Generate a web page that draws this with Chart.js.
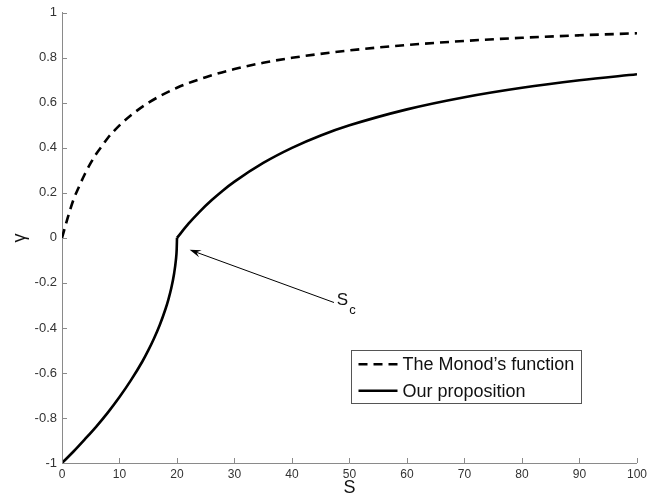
<!DOCTYPE html>
<html>
<head>
<meta charset="utf-8">
<script src="https://cdn.jsdelivr.net/npm/chart.js@4.4.1/dist/chart.umd.min.js"></script>
<style>
  html, body { margin: 0; padding: 0; background: #fff; }
  #wrap { width: 651px; height: 504px; }
</style>
</head>
<body>
<div id="wrap"><canvas id="chart" width="651" height="504"></canvas></div>
<script>
// Monod's function (dashed)
const monodS = [0, 1, 2, 3, 4, 5, 6, 7, 8, 10, 12, 15, 20, 25, 30, 35, 40, 50, 60, 70, 80, 90, 100];
const monodGamma = [0, 0.09, 0.17, 0.23, 0.285, 0.333, 0.375, 0.41, 0.445, 0.5, 0.545, 0.6, 0.667, 0.714, 0.75, 0.778, 0.8, 0.833, 0.857, 0.875, 0.889, 0.9, 0.909];

// Our proposition (solid), below S_c
const propLowS = [0, 2, 4, 6, 8, 10, 12, 14, 15, 16, 17, 18, 18.5, 19, 19.5, 19.8, 19.95, 20];
const propLowGamma = [-1, -0.949, -0.894, -0.837, -0.775, -0.707, -0.632, -0.548, -0.5, -0.447, -0.387, -0.316, -0.274, -0.224, -0.158, -0.1, -0.05, 0];

// Our proposition (solid), above S_c
const propHighS = [20, 22, 24, 26, 28, 30, 35, 40, 45, 50, 60, 70, 80, 90, 100];
const propHighGamma = [0, 0.063, 0.118, 0.167, 0.211, 0.25, 0.333, 0.4, 0.455, 0.5, 0.571, 0.625, 0.667, 0.7, 0.727];

const legendLabels = ["The Monod\u2019s function", "Our proposition"];

// annotation, in data units
const arrowTip = { x: 22.2, y: -0.053 };
const arrowTail = { x: 47.3, y: -0.287 };
const scLabel = { x: 47.8, y: -0.278 };
const legendBox = { x0: 50.3, y0: -0.5, x1: 90.3, y1: -0.733 };

const axisColor = '#8a8a8a';
const textColor = '#333';
const fontFamily = '"Liberation Sans", Arial, sans-serif';

function pairs(xs, ys) {
  return xs.map((x, i) => ({ x: x, y: ys[i] }));
}

const innerTicks = {
  id: 'innerTicks',
  afterDraw(chart) {
    const ctx = chart.ctx;
    const area = chart.chartArea;
    const xs = chart.scales.x, ys = chart.scales.y;
    ctx.save();
    ctx.strokeStyle = axisColor;
    ctx.lineWidth = 1;
    ctx.beginPath();
    xs.ticks.forEach(t => {
      const px = Math.round(xs.getPixelForValue(t.value)) + 0.5;
      ctx.moveTo(px, area.bottom);
      ctx.lineTo(px, area.bottom - 5);
    });
    ys.ticks.forEach(t => {
      const py = Math.round(ys.getPixelForValue(t.value)) + 0.5;
      ctx.moveTo(area.left, py);
      ctx.lineTo(area.left + 5, py);
    });
    ctx.stroke();
    ctx.restore();
  }
};

const annotations = {
  id: 'annotations',
  afterDraw(chart) {
    const ctx = chart.ctx;
    const xs = chart.scales.x, ys = chart.scales.y;
    ctx.save();

    // arrow to S_c
    const tx = xs.getPixelForValue(arrowTip.x), ty = ys.getPixelForValue(arrowTip.y);
    const sx = xs.getPixelForValue(arrowTail.x), sy = ys.getPixelForValue(arrowTail.y);
    const ang = Math.atan2(ty - sy, tx - sx);
    ctx.strokeStyle = '#000';
    ctx.fillStyle = '#000';
    ctx.lineWidth = 1;
    ctx.beginPath();
    ctx.moveTo(sx, sy);
    ctx.lineTo(tx - 6 * Math.cos(ang), ty - 6 * Math.sin(ang));
    ctx.stroke();
    const len = 12, half = 0.32;
    ctx.beginPath();
    ctx.moveTo(tx, ty);
    ctx.lineTo(tx - len * Math.cos(ang - half), ty - len * Math.sin(ang - half));
    ctx.lineTo(tx - 0.6 * len * Math.cos(ang), ty - 0.6 * len * Math.sin(ang));
    ctx.lineTo(tx - len * Math.cos(ang + half), ty - len * Math.sin(ang + half));
    ctx.closePath();
    ctx.fill();

    // S_c label
    const lx = xs.getPixelForValue(scLabel.x), ly = ys.getPixelForValue(scLabel.y);
    ctx.fillStyle = '#111';
    ctx.textBaseline = 'middle';
    ctx.textAlign = 'left';
    ctx.font = '17px ' + fontFamily;
    ctx.fillText('S', lx, ly);
    const sw = ctx.measureText('S').width;
    ctx.font = '13px ' + fontFamily;
    ctx.fillText('c', lx + sw + 1, ly + 10);

    // legend box
    const bx0 = Math.round(xs.getPixelForValue(legendBox.x0)) + 0.5;
    const by0 = Math.round(ys.getPixelForValue(legendBox.y0)) + 0.5;
    const bx1 = Math.round(xs.getPixelForValue(legendBox.x1)) + 0.5;
    const by1 = Math.round(ys.getPixelForValue(legendBox.y1)) + 0.5;
    ctx.fillStyle = '#fff';
    ctx.fillRect(bx0, by0, bx1 - bx0, by1 - by0);
    ctx.strokeStyle = '#555';
    ctx.lineWidth = 1;
    ctx.strokeRect(bx0, by0, bx1 - bx0, by1 - by0);

    const rowH = (by1 - by0) / 2;
    legendLabels.forEach((label, i) => {
      const ds = chart.data.datasets[i];
      const cy = by0 + rowH * (i + 0.5) + 0.5;
      ctx.strokeStyle = ds.borderColor;
      ctx.lineWidth = ds.borderWidth;
      ctx.setLineDash(ds.borderDash || []);
      ctx.beginPath();
      ctx.moveTo(bx0 + 7, cy);
      ctx.lineTo(bx0 + 46, cy);
      ctx.stroke();
      ctx.setLineDash([]);
      ctx.fillStyle = '#111';
      ctx.font = '18px ' + fontFamily;
      ctx.textBaseline = 'middle';
      ctx.fillText(label, bx0 + 51, cy + 1);
    });
    ctx.restore();
  }
};

const fmt = v => {
  const n = Number(Number(v).toFixed(1));
  return n.toString();
};

const solidStyle = {
  showLine: true,
  borderColor: '#000',
  borderWidth: 2.6,
  pointRadius: 0,
  cubicInterpolationMode: 'monotone'
};

new Chart(document.getElementById('chart'), {
  type: 'scatter',
  data: {
    datasets: [
      {
        label: legendLabels[0],
        data: pairs(monodS, monodGamma),
        showLine: true,
        borderColor: '#000',
        borderWidth: 2.6,
        borderDash: [9, 6],
        pointRadius: 0,
        cubicInterpolationMode: 'monotone'
      },
      Object.assign({ label: legendLabels[1], data: pairs(propLowS, propLowGamma) }, solidStyle),
      Object.assign({ label: legendLabels[1], data: pairs(propHighS, propHighGamma) }, solidStyle)
    ]
  },
  options: {
    responsive: false,
    animation: false,
    layout: { padding: { left: 0, right: 12, top: 10, bottom: 0 } },
    plugins: { legend: { display: false }, tooltip: { enabled: false } },
    scales: {
      x: {
        type: 'linear',
        min: 0,
        max: 100,
        afterFit: s => { s.height = 41; },
        ticks: {
          stepSize: 10,
          maxRotation: 0,
          padding: 4,
          color: textColor,
          font: { family: fontFamily, size: 12 },
          callback: fmt
        },
        grid: { drawOnChartArea: false, drawTicks: false },
        border: { display: true, color: axisColor, width: 1 },
        title: {
          display: true,
          text: 'S',
          color: '#111',
          font: { family: fontFamily, size: 18 },
          padding: { top: 0, bottom: 5 }
        }
      },
      y: {
        type: 'linear',
        min: -1,
        max: 1,
        afterFit: s => { s.width = 62; },
        ticks: {
          stepSize: 0.2,
          padding: 5,
          color: textColor,
          font: { family: fontFamily, size: 13 },
          callback: fmt
        },
        grid: { drawOnChartArea: false, drawTicks: false },
        border: { display: true, color: axisColor, width: 1 },
        title: {
          display: true,
          text: '\u03b3',
          color: '#111',
          font: { family: fontFamily, size: 18 },
          padding: { top: 9, bottom: 0 }
        }
      }
    }
  },
  plugins: [innerTicks, annotations]
});
</script>
</body>
</html>
